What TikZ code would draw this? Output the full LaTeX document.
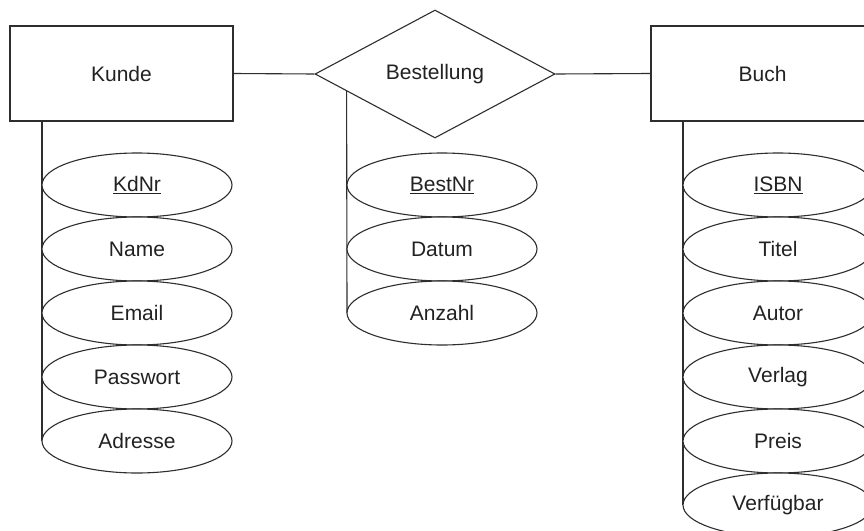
\documentclass[tikz,border=0pt]{standalone}
\usepackage{fontspec}
\setmainfont{Liberation Sans}
\usetikzlibrary{shapes.geometric,calc}
\definecolor{linec}{HTML}{2E2E2E}
\definecolor{textc}{HTML}{222222}
\tikzset{
  entity/.style={draw=linec, line width=1.1pt, fill=white, rectangle, minimum width=223pt, minimum height=95pt, inner sep=0pt, text=textc, font=\fontsize{21}{24}\selectfont},
  relation/.style={draw=linec, line width=1.1pt, fill=white, diamond, minimum width=240pt, minimum height=128pt, inner sep=0pt, text=textc, font=\fontsize{21}{24}\selectfont},
  attr/.style={draw=linec, line width=1.1pt, fill=white, ellipse, minimum width=190pt, minimum height=64pt, inner sep=0pt, text=textc, font=\fontsize{21}{24}\selectfont},
  conn/.style={draw=linec, line width=1.1pt}
}
\begin{document}
\begin{tikzpicture}[x=1pt,y=-1pt]
\useasboundingbox (0,0) rectangle (864,530);
\clip (0,0) rectangle (864,530);
\fill[white] (0,0) rectangle (864,530);
% entities and relation
\node[entity] (kunde) at (121.5,73.5) {Kunde};
\node[relation] (best) at (435,74) {Bestellung};
\node[entity] (buch) at (762.5,73.5) {Buch};
\draw[conn] (kunde.east) -- (best.west);
\draw[conn] (best.east) -- (buch.west);
% attribute spines
\coordinate (kspine) at (42,121);
\coordinate (bspine) at ($(best.west)!0.2667!(best.south)$);
\coordinate (uspine) at (683,121);
\draw[conn] (kspine) -- (42,441) coordinate (kend);
\draw[conn] (bspine) -- (347,313) coordinate (bend);
\draw[conn] (uspine) -- (683,505) coordinate (uend);
% Kunde attributes
\node[attr] (kdnr) at (137,185) {\underline{KdNr}};
\node[attr] (name) at (137,249) {Name};
\node[attr] (email) at (137,313) {Email};
\node[attr] (pw) at (137,377) {Passwort};
\node[attr] (adr) at (137,441) {Adresse};
% Bestellung attributes
\node[attr] (bestnr) at (442,185) {\underline{BestNr}};
\node[attr] (datum) at (442,249) {Datum};
\node[attr] (anzahl) at (442,313) {Anzahl};
% Buch attributes
\node[attr] (isbn) at (778,185) {\underline{ISBN}};
\node[attr] (titel) at (778,249) {Titel};
\node[attr] (autor) at (778,313) {Autor};
\node[attr] (verlag) at (778,377) {Verlag};
\node[attr] (preis) at (778,441) {Preis};
\node[attr] (verf) at (778,505) {Verfügbar};
\end{tikzpicture}
\end{document}
